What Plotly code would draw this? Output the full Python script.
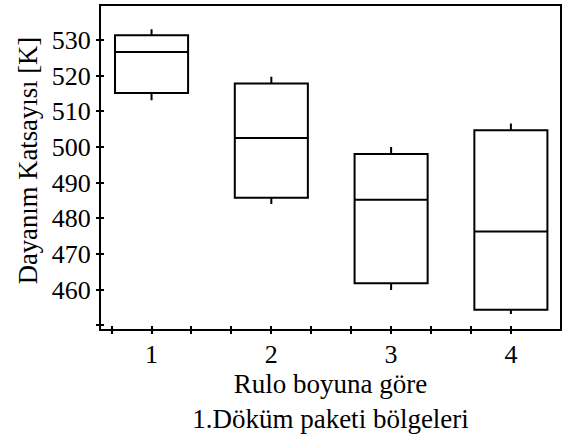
import plotly.graph_objects as go

# Box statistics for the four casting-package regions along the roll
regions = [1, 2, 3, 4]
lower_whisker = [513.1, 484.0, 459.9, 453.2]
q1 = [515.1, 485.8, 461.8, 454.4]
median = [526.6, 502.5, 485.2, 476.3]
q3 = [531.3, 517.8, 498.0, 504.7]
upper_whisker = [533.0, 519.7, 500.0, 506.6]

# Axis ticks
x_tickvals = [2 / 3 + i / 3 for i in range(11)]
x_ticktext = ["1" if abs(v - 1) < 1e-6 else "2" if abs(v - 2) < 1e-6 else
              "3" if abs(v - 3) < 1e-6 else "4" if abs(v - 4) < 1e-6 else ""
              for v in x_tickvals]
y_tickvals = [450, 460, 470, 480, 490, 500, 510, 520, 530]
y_ticktext = ["", "460", "470", "480", "490", "500", "510", "520", "530"]

x_range = [0.578, 4.41]
y_range = [449.0, 539.5]

FONT = "Liberation Serif"

fig = go.Figure()
fig.add_trace(go.Box(
    x=regions,
    q1=q1, median=median, q3=q3,
    lowerfence=lower_whisker, upperfence=upper_whisker,
    width=0.61, whiskerwidth=0,
    line=dict(color="black", width=2),
    fillcolor="rgba(255,255,255,0)",
    showlegend=False, hoverinfo="skip",
))
# companion axes carry the inward half of each crossing tick
fig.add_trace(go.Scatter(x=[], y=[], xaxis="x2", yaxis="y2", showlegend=False))

axis_common = dict(showgrid=False, zeroline=False, tickcolor="black", tickwidth=1.5)

fig.update_layout(
    width=566, height=434,
    margin=dict(l=101, r=4, t=5, b=105),
    paper_bgcolor="white", plot_bgcolor="white",
    font=dict(family=FONT, size=26, color="black"),
    xaxis=dict(
        range=x_range, tickmode="array", tickvals=x_tickvals, ticktext=x_ticktext,
        ticks="outside", ticklen=3, ticklabelstandoff=-2,
        tickfont=dict(family=FONT, size=26),
        showline=True, linecolor="black", linewidth=2, mirror=True,
        title=dict(text="Rulo boyuna göre<br>1.Döküm paketi bölgeleri",
                   font=dict(family=FONT, size=27), standoff=0),
        **axis_common,
    ),
    yaxis=dict(
        range=y_range, tickmode="array", tickvals=y_tickvals, ticktext=y_ticktext,
        ticks="outside", ticklen=3,
        tickfont=dict(family=FONT, size=26),
        showline=True, linecolor="black", linewidth=2, mirror=True,
        **axis_common,
    ),
    xaxis2=dict(
        overlaying="x", anchor="y2", range=x_range, tickmode="array",
        tickvals=x_tickvals, ticks="inside", ticklen=3, showticklabels=False,
        showline=False, **axis_common,
    ),
    yaxis2=dict(
        overlaying="y", anchor="x2", range=y_range, tickmode="array",
        tickvals=y_tickvals, ticks="inside", ticklen=3, showticklabels=False,
        showline=False, **axis_common,
    ),
    annotations=[dict(
        text="Dayanım Katsayısı [K]", textangle=-90,
        xref="paper", yref="paper", x=-0.1594, y=0.5216,
        xanchor="center", yanchor="middle", showarrow=False,
        font=dict(family=FONT, size=26.7),
    )],
)

fig.write_html("out.html")
